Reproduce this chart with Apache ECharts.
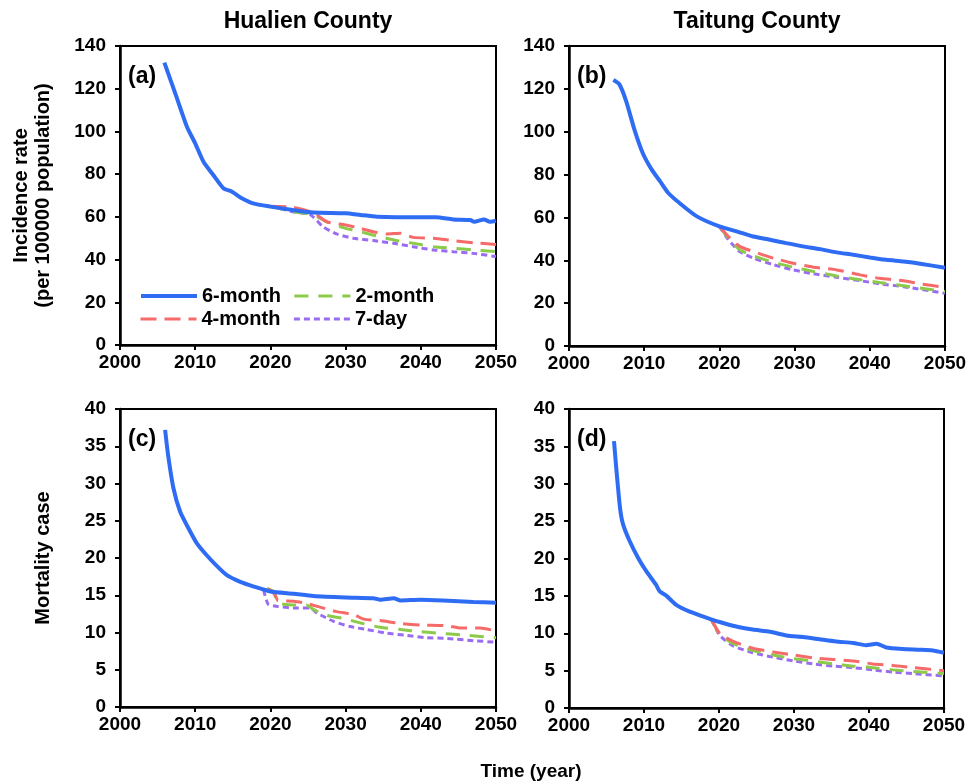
<!DOCTYPE html>
<html>
<head>
<meta charset="utf-8">
<script src="https://cdn.jsdelivr.net/npm/echarts@6/dist/echarts.min.js"></script>
<style>
html,body{margin:0;padding:0;background:#fff;}
#chart{width:970px;height:782px;}
</style>
</head>
<body>
<div id="chart"></div>
<script>
// ---------- data (year, value) ----------
const seriesNames = ['6-month', '4-month', '2-month', '7-day'];
const panelTitles = ['Hualien County', 'Taitung County'];
const panelLabels = ['(a)', '(b)', '(c)', '(d)'];
const xTicks = [2000, 2010, 2020, 2030, 2040, 2050];

// (a) Hualien incidence
const aBlue = [[2005.9,132.2],[2007.5,116.3],[2008.9,102.2],[2010,94.4],[2011.1,85.8],[2012.4,79.6],[2013.75,73.4],[2014.9,71.8],[2016.2,68.7],[2017.7,66.3],[2020,64.8],[2023,63.2],[2025.7,62],[2030,61.7],[2032,60.9],[2034.2,60.1],[2040,59.8],[2042,59.8],[2044.3,58.8],[2046.6,58.5],[2047.1,57.7],[2048.4,58.8],[2049.2,57.7],[2050,58.2]];
const aRed = [[2020,65],[2023,64.5],[2025.7,62],[2027.5,57.7],[2030,56.2],[2032,54.6],[2033.7,53],[2035.5,52],[2037.3,52.3],[2039,50.4],[2041.7,50],[2044.3,48.9],[2047,47.9],[2050,47.1]];
const aGreen = [[2020,65],[2023,62.4],[2025.7,60.9],[2027.5,57.7],[2030,54.6],[2032,53],[2034.2,51],[2036.4,49.2],[2039,47.6],[2041.7,46],[2044.3,45.3],[2047,44.5],[2050,43.7]];
const aPurple = [[2020,65],[2023,62.4],[2025.3,61],[2027,55.4],[2028.8,52],[2031,50],[2033.7,48.9],[2036.4,47.6],[2039,46],[2041.7,44.5],[2044.3,43.7],[2047,42.9],[2050,41.4]];

// (b) Taitung incidence
const bBlue = [[2005.9,124.1],[2006.7,122.1],[2007.6,114.3],[2008.7,101],[2009.8,90.1],[2011,82.3],[2012.1,76.9],[2013.2,71.4],[2014.7,66.7],[2017,60.5],[2020,55.8],[2022.3,53.5],[2024.5,51.1],[2026.7,49.6],[2028.9,48],[2031.1,46.5],[2033.4,45.2],[2035.6,43.7],[2037.8,42.6],[2040,41.3],[2042.2,40.2],[2044.5,39.4],[2046.7,38.4],[2050,36.5]];
const bRed = [[2020,55.8],[2021.2,51.1],[2022.7,46.5],[2024.5,44.1],[2027.2,41],[2029.8,38.6],[2032.5,36.8],[2035.6,35.5],[2038.7,33.2],[2041.3,31.6],[2044.5,30.5],[2046.7,29],[2050,27.4]];
const bGreen = [[2020,55.8],[2021.2,50.3],[2022.7,44.9],[2024.5,42.1],[2027.2,39],[2029.8,36.8],[2032.5,34.8],[2035.6,32.7],[2038.7,30.9],[2041.3,29.6],[2044.5,28.1],[2050,25.4]];
const bPurple = [[2020,55.8],[2021.2,49.6],[2022.7,44.1],[2024.5,41],[2027.2,37.9],[2029.8,35.5],[2032.5,33.7],[2035.6,32.1],[2038.7,30.5],[2041.3,29],[2044.5,27.7],[2050,24.6]];

// (c) Hualien mortality
const cBlue = [[2006,37.2],[2006.4,33.8],[2007.1,29.4],[2008,26.2],[2009.1,24],[2010.2,22],[2011.5,20.4],[2012.9,18.9],[2014.2,17.7],[2016,16.8],[2017.7,16.2],[2020,15.5],[2023.1,15.2],[2025.7,14.9],[2030,14.7],[2033.7,14.6],[2034.6,14.4],[2036.4,14.6],[2037.3,14.3],[2040,14.4],[2043,14.3],[2047,14.1],[2050,14]];
const cRed = [[2019.7,15.9],[2020.6,15.1],[2021,14.3],[2023.1,14.2],[2024.8,13.9],[2026.6,13.4],[2028.8,12.8],[2031.1,12.4],[2032.4,11.8],[2034.6,11.6],[2037.3,11.2],[2040,11],[2043.5,10.9],[2045.3,10.6],[2047.9,10.6],[2050,10.2]];
const cGreen = [[2019.5,15.9],[2020.4,15.5],[2021,14],[2023.1,13.7],[2024.8,13.7],[2025.7,13.1],[2027.5,12.3],[2029.7,11.9],[2031.9,11.3],[2034.6,10.7],[2037.3,10.4],[2040,10.1],[2042.6,9.9],[2045.3,9.7],[2050,9.3]];
const cPurple = [[2019.1,15.7],[2019.7,13.8],[2020.9,13.5],[2023.1,13.3],[2025.3,13.3],[2026.2,12.6],[2028.4,11.5],[2030.6,10.8],[2032.8,10.4],[2035.5,9.9],[2038.2,9.6],[2040.8,9.3],[2043.5,9.2],[2047,8.9],[2050,8.7]];

// (d) Taitung mortality
const dBlue = [[2006,35.7],[2006.3,32.1],[2006.8,26.8],[2007.2,24.6],[2008.1,22.3],[2009.2,20.1],[2010.3,18.3],[2011.6,16.5],[2012.1,15.6],[2013,15],[2014.3,13.8],[2016.1,12.9],[2018.3,12.1],[2020.1,11.5],[2022.3,10.9],[2024.5,10.5],[2026.8,10.2],[2029,9.7],[2031.2,9.5],[2033.4,9.2],[2035.6,8.9],[2037.9,8.7],[2039.6,8.4],[2041,8.6],[2042.3,8.1],[2044.5,7.9],[2046.8,7.8],[2048.5,7.7],[2050,7.4]];
const dRed = [[2019,11.8],[2020.1,10],[2021.9,8.9],[2024.5,8],[2027.2,7.5],[2029.9,7.1],[2032.5,6.7],[2035.2,6.5],[2037.9,6.3],[2040.5,5.9],[2043.2,5.7],[2045.9,5.4],[2050,5]];
const dGreen = [[2019,11.8],[2020.1,9.9],[2021.9,8.6],[2024.5,7.7],[2027.2,7.1],[2029.9,6.6],[2032.5,6.3],[2035.2,5.9],[2037.9,5.6],[2040.5,5.4],[2043.2,5.1],[2045.9,4.9],[2050,4.6]];
const dPurple = [[2019,11.8],[2020.1,9.7],[2021.9,8.3],[2024.5,7.4],[2027.2,6.8],[2029.9,6.3],[2032.5,5.9],[2035.2,5.6],[2037.9,5.4],[2040.5,5.1],[2043.2,4.8],[2045.9,4.6],[2050,4.3]];

const panelData = [
  [aBlue, aRed, aGreen, aPurple],
  [bBlue, bRed, bGreen, bPurple],
  [cBlue, cRed, cGreen, cPurple],
  [dBlue, dRed, dGreen, dPurple]
];

// ---------- styles ----------
const FONT = '"Liberation Sans", Arial, sans-serif';
const colors = ['#2f6cf4', '#f76a6a', '#8ccb4a', '#9a6cf2'];
const dashes = ['solid', [16, 8], [14, 10], [6, 4]];
const widths = [4, 3, 3, 3];

const grids = [
  {left: 120, top: 46, width: 376, height: 299},
  {left: 569, top: 46, width: 376, height: 300},
  {left: 120, top: 409, width: 376, height: 298},
  {left: 569, top: 409, width: 375, height: 299}
];
const yMax = [140, 140, 40, 40];
const yInt = [20, 20, 5, 5];
const yNames = ['Incidence rate\n(per 100000 population)', '', 'Mortality case', ''];

const chart = echarts.init(document.getElementById('chart'), null, {renderer: 'canvas'});

const axisLineStyle = {color: '#000', width: 2.5};
const xAxes = grids.map((g, i) => ({
  type: 'value', gridIndex: i, min: xTicks[0], max: xTicks[xTicks.length - 1], interval: 10,
  axisLine: {show: true, onZero: false, lineStyle: axisLineStyle},
  axisTick: {show: true, inside: false, length: 5, lineStyle: {color: '#000', width: 2}},
  axisLabel: {color: '#000', fontFamily: FONT, fontWeight: 'bold', fontSize: 19, margin: 8, formatter: v => String(v)},
  splitLine: {show: false}
}));
const yAxes = grids.map((g, i) => ({
  type: 'value', gridIndex: i, min: 0, max: yMax[i], interval: yInt[i],
  name: yNames[i], nameLocation: 'middle', nameRotate: 90, nameGap: 66,
  nameTextStyle: {color: '#000', fontFamily: FONT, fontWeight: 'bold', fontSize: 20, lineHeight: 22},
  axisLine: {show: true, onZero: false, lineStyle: axisLineStyle},
  axisTick: {show: true, inside: false, length: 5, lineStyle: {color: '#000', width: 2}},
  axisLabel: {color: '#000', fontFamily: FONT, fontWeight: 'bold', fontSize: 19, margin: 14},
  splitLine: {show: false}
}));

const series = [];
panelData.forEach((arrs, p) => {
  arrs.forEach((d, s) => {
    series.push({
      type: 'line', name: seriesNames[s], xAxisIndex: p, yAxisIndex: p,
      data: d, symbol: 'none', smooth: 0.2,
      lineStyle: {color: colors[s], width: widths[s], type: dashes[s]},
      itemStyle: {color: colors[s]},
      z: 10 - s
    });
  });
});

const legendText = {color: '#000', fontFamily: FONT, fontWeight: 'bold', fontSize: 20};
const legendItem = (name) => {
  const s = seriesNames.indexOf(name);
  return {name: name, lineStyle: {width: widths[s], type: dashes[s], color: colors[s]}};
};
const gr = [];
[0, 1].forEach(i => {
  const g = grids[i];
  gr.push({type: 'text', x: g.left + g.width / 2, y: 22, style: {text: panelTitles[i], fill: '#000', font: 'bold 23px ' + FONT, textAlign: 'center', textVerticalAlign: 'middle'}});
});
grids.forEach((g, i) => {
  gr.push({type: 'text', x: g.left + 8, y: g.top + 31, style: {text: panelLabels[i], fill: '#000', font: 'bold 23px ' + FONT, textAlign: 'left', textVerticalAlign: 'middle'}, z: 20});
});
gr.push({type: 'text', x: 531, y: 772, style: {text: 'Time (year)', fill: '#000', font: 'bold 19px ' + FONT, textAlign: 'center', textVerticalAlign: 'middle'}});

const legendBase = {left: 134, itemWidth: 56, itemHeight: 8, itemGap: 12, textStyle: legendText, selectedMode: false, itemStyle: {opacity: 0}};
chart.setOption({
  backgroundColor: '#fff',
  animation: false,
  grid: grids.map(g => Object.assign({show: true, borderColor: '#000', borderWidth: 2, backgroundColor: 'transparent'}, g)),
  xAxis: xAxes,
  yAxis: yAxes,
  legend: [
    Object.assign({data: ['6-month', '2-month'].map(legendItem), top: 281}, legendBase),
    Object.assign({data: ['4-month', '7-day'].map(legendItem), top: 304}, legendBase)
  ],
  graphic: gr,
  series: series
});
</script>
</body>
</html>
